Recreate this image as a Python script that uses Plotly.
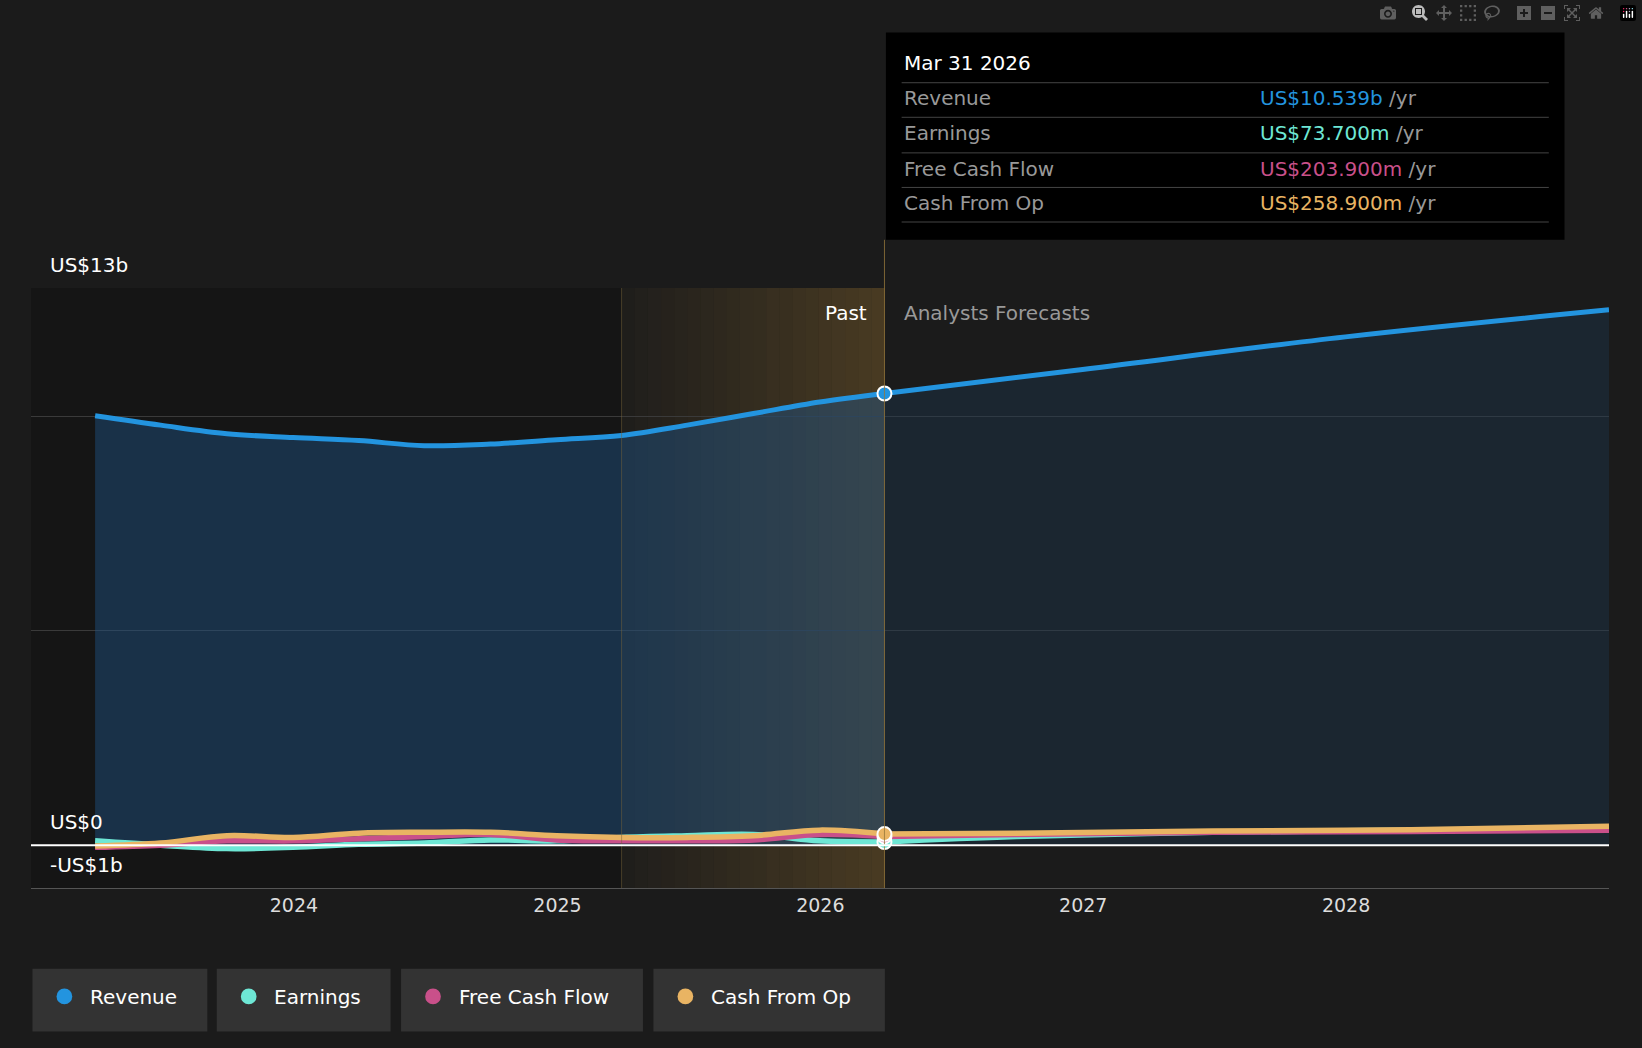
import plotly.graph_objects as go
import pandas as pd

dates_past = ["2023-03-31", "2023-06-30", "2023-09-30", "2023-12-31", "2024-03-31", "2024-06-30",
              "2024-09-30", "2024-12-31", "2025-03-31", "2025-06-30", "2025-09-30", "2025-12-31", "2026-03-31"]
dates_fc = ["2026-03-31", "2026-12-31", "2027-12-31", "2028-12-31"]

revenue_past = [10.02, 9.8, 9.6, 9.51, 9.44, 9.32, 9.36, 9.46, 9.56, 9.8, 10.07, 10.34, 10.539]
revenue_fc = [10.539, 11.1, 11.86, 12.49]
earnings_past = [0.1, 0.0, -0.08, -0.05, 0.02, 0.05, 0.12, 0.1, 0.18, 0.22, 0.25, 0.1, 0.074]
earnings_fc = [0.074, 0.2, 0.3, 0.35, 0.4]
fcf_past = [-0.05, 0.0, 0.1, 0.1, 0.15, 0.2, 0.25, 0.12, 0.1, 0.1, 0.12, 0.25, 0.204]
fcf_fc = [0.204, 0.25, 0.3, 0.32, 0.35]
cfo_past = [-0.02, 0.05, 0.22, 0.18, 0.28, 0.3, 0.3, 0.22, 0.18, 0.18, 0.22, 0.35, 0.259]
cfo_fc = [0.259, 0.28, 0.33, 0.36, 0.44]
dates_fc5 = ["2026-03-31", "2026-09-30", "2027-06-30", "2028-03-31", "2028-12-31"]

BLUE, TEAL, PINK, GOLD = "#2394df", "#6ee7d5", "#c9508a", "#e9b463"
W, H = 1642, 1048
s = W / 1568
L, R, T, B = 31, 33, 288, 160
pw, ph = W - L - R, H - T - B

def px(x):
    return (x * s - L) / pw

def py(y):
    return (H - B - y * s) / ph

fig = go.Figure()
fig.add_trace(go.Scatter(x=dates_past, y=revenue_past, mode="lines", line=dict(color=BLUE, width=5, shape="spline"),
                         fill="tozeroy", fillcolor="rgba(30,85,135,0.45)", showlegend=False))
fig.add_trace(go.Scatter(x=dates_fc, y=revenue_fc, mode="lines", line=dict(color=BLUE, width=5, shape="spline"),
                         fill="tozeroy", fillcolor="rgba(30,60,90,0.35)", showlegend=False))
for past, fc, col in [(earnings_past, earnings_fc, TEAL), (fcf_past, fcf_fc, PINK), (cfo_past, cfo_fc, GOLD)]:
    fig.add_trace(go.Scatter(x=dates_past, y=past, mode="lines", line=dict(color=col, width=5.5, shape="spline"), showlegend=False))
    fig.add_trace(go.Scatter(x=dates_fc5, y=fc, mode="lines", line=dict(color=col, width=5.5, shape="spline"), showlegend=False))
for v, col in [(earnings_past[-1], TEAL), (fcf_past[-1], PINK), (cfo_past[-1], GOLD), (revenue_past[-1], BLUE)]:
    fig.add_trace(go.Scatter(x=[dates_past[-1]], y=[v], mode="markers",
                             marker=dict(color=col, size=14, line=dict(color="white", width=2)), showlegend=False))

shapes = [
    dict(type="rect", xref="x", yref="paper", x0="2023-01-01", x1="2025-03-31", y0=0, y1=1,
         fillcolor="rgba(0,0,0,0.2)", line_width=0, layer="below"),
    dict(type="line", xref="x", yref="paper", x0="2025-03-31", x1="2025-03-31", y0=0, y1=1,
         line=dict(color="rgba(120,100,60,0.5)", width=1)),
]
# gradient band for the last year of the past
edges = pd.date_range("2025-03-31", "2026-03-31", periods=21)
for i in range(20):
    shapes.append(dict(type="rect", xref="x", yref="paper", x0=edges[i], x1=edges[i + 1], y0=0, y1=1,
                       fillcolor=f"rgba(160,120,50,{0.04 + 0.3 * i / 19:.3f})", line_width=0, layer="below"))
shapes += [
    dict(type="line", xref="x", yref="paper", x0="2026-03-31", x1="2026-03-31", y0=0, y1=py(229),
         line=dict(color="rgba(150,120,60,0.8)", width=1)),
    dict(type="line", xref="paper", yref="y", x0=0, x1=1, y0=0, y1=0, line=dict(color="white", width=2)),
    dict(type="rect", xref="paper", yref="paper", x0=px(846), x1=px(1494), y0=py(229), y1=py(31),
         fillcolor="black", line_width=0),
]
ann = [
    dict(x=px(46), y=py(253), text="US$13b"), dict(x=px(46), y=py(785), text="US$0"),
    dict(x=px(46), y=py(826), text="-US$1b"),
    dict(x=px(830), y=py(299), text="Past", xanchor="right"),
    dict(x=px(861), y=py(299), text="Analysts Forecasts", font=dict(color="#999", size=20)),
    dict(x=px(861), y=py(60), text="Mar 31 2026"),
]
rows = [("Revenue", "US$10.539b", BLUE, 94), ("Earnings", "US$73.700m", TEAL, 127),
        ("Free Cash Flow", "US$203.900m", PINK, 161), ("Cash From Op", "US$258.900m", GOLD, 194)]
for name, val, col, yy in rows:
    ann.append(dict(x=px(861), y=py(yy), text=name, font=dict(color="#999", size=20)))
    ann.append(dict(x=px(1201), y=py(yy), text=f"<span style='color:{col}'>{val}</span> /yr",
                    font=dict(color="#999", size=20)))
    shapes.append(dict(type="line", xref="paper", yref="paper", x0=px(861), x1=px(1479),
                       y0=py(yy - 15), y1=py(yy - 15), line=dict(color="#444", width=1)))
shapes.append(dict(type="line", xref="paper", yref="paper", x0=px(861), x1=px(1479),
                   y0=py(212), y1=py(212), line=dict(color="#444", width=1)))
for name, col, x0, x1 in [("Revenue", BLUE, 31, 198), ("Earnings", TEAL, 207, 373),
                          ("Free Cash Flow", PINK, 383, 614), ("Cash From Op", GOLD, 624, 845)]:
    shapes.append(dict(type="rect", xref="paper", yref="paper", x0=px(x0), x1=px(x1), y0=py(985), y1=py(925),
                       fillcolor="#333", line_width=0))
    shapes.append(dict(type="circle", xref="paper", yref="paper", x0=px(x0 + 23), x1=px(x0 + 38),
                       y0=py(959), y1=py(944), fillcolor=col, line_width=0))
    ann.append(dict(x=px(x0 + 53), y=py(952), text=name))
for a in ann:
    a.update(xref="paper", yref="paper", showarrow=False, yanchor="middle")
    a.setdefault("xanchor", "left")
    a.setdefault("font", dict(color="white", size=20))

fig.update_layout(
    width=W, height=H, paper_bgcolor="#1b1b1b", plot_bgcolor="#1b1b1b",
    margin=dict(l=L, r=R, t=T, b=B), shapes=shapes, annotations=ann,
    font=dict(family="DejaVu Sans", color="white", size=19),
    xaxis=dict(range=["2023-01-01", "2028-12-31"], showgrid=False, zeroline=False, ticks="",
               tickvals=["2024-01-01", "2025-01-01", "2026-01-01", "2027-01-01", "2028-01-01"],
               ticktext=["2024", "2025", "2026", "2027", "2028"], tickfont=dict(color="#ddd", size=19),
               showline=True, linecolor="#555"),
    yaxis=dict(range=[-1, 13], tickvals=[0, 5, 10, 13], showticklabels=False, gridcolor="#3a3a3a",
               zeroline=False),
)
fig.write_html("out.html", post_script="document.body.style.margin='0';document.body.style.background='#1b1b1b';")
